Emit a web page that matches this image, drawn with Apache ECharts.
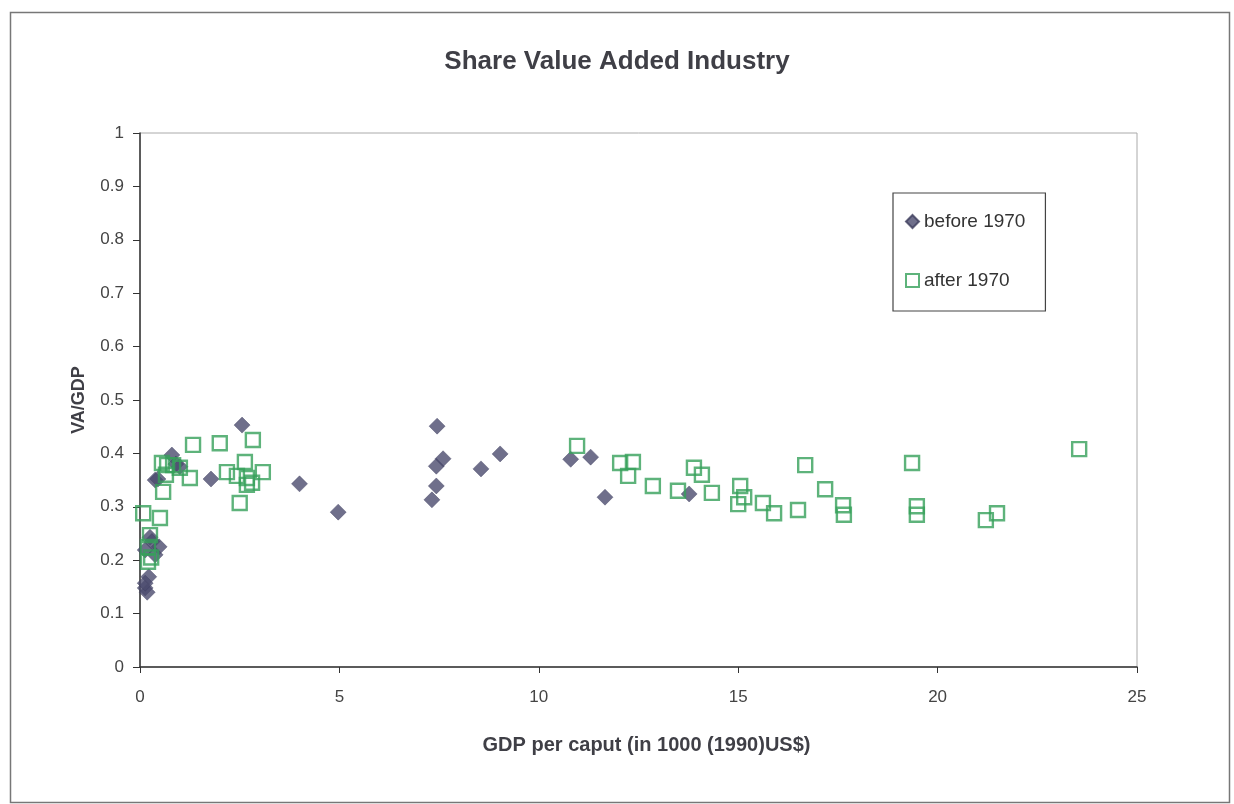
<!DOCTYPE html>
<html>
<head>
<meta charset="utf-8">
<script src="https://cdn.jsdelivr.net/npm/echarts@6/dist/echarts.min.js"></script>
<style>
html,body{margin:0;padding:0;background:#fff;}
#c{width:1234px;height:804px;}
</style>
</head>
<body>
<div id="c"></div>
<script>
// Data: [GDP per caput (1000 1990 US$), VA/GDP]
const before1970 = [
  [0.13, 0.148], [0.18, 0.140], [0.22, 0.169], [0.13, 0.157],
  [0.25, 0.243], [0.48, 0.225], [0.13, 0.219], [0.38, 0.210], [0.30, 0.235],
  [0.38, 0.350], [0.45, 0.352], [0.80, 0.397], [0.90, 0.380], [1.00, 0.375],
  [1.78, 0.352], [2.56, 0.453], [4.00, 0.343], [4.97, 0.290],
  [7.45, 0.451], [7.43, 0.376], [7.60, 0.390], [7.43, 0.339], [7.32, 0.313],
  [8.55, 0.371], [9.03, 0.399],
  [10.80, 0.389], [11.30, 0.393], [11.66, 0.318], [13.77, 0.324]
];
const after1970 = [
  [0.08, 0.288], [0.50, 0.279], [0.25, 0.247], [0.20, 0.225], [0.20, 0.197], [0.28, 0.205],
  [0.58, 0.328], [0.55, 0.382], [0.68, 0.378], [0.83, 0.378], [1.00, 0.373], [0.65, 0.360],
  [1.25, 0.354], [1.33, 0.416], [2.00, 0.419], [2.83, 0.425],
  [2.63, 0.384], [2.18, 0.365], [2.43, 0.358], [2.68, 0.354], [3.08, 0.365],
  [2.68, 0.341], [2.81, 0.345], [2.50, 0.307],
  [10.96, 0.414], [12.04, 0.382], [12.36, 0.384], [12.24, 0.358], [12.86, 0.339],
  [13.49, 0.330], [13.89, 0.373], [14.09, 0.360], [14.34, 0.326],
  [15.05, 0.339], [15.15, 0.318], [15.00, 0.305], [15.62, 0.307], [15.90, 0.288],
  [16.50, 0.294], [16.68, 0.378], [17.18, 0.333], [17.63, 0.303], [17.65, 0.285],
  [19.36, 0.382], [19.48, 0.301], [19.48, 0.285], [21.21, 0.275], [21.49, 0.288],
  [23.55, 0.408]
];
const xTicks = [0, 5, 10, 15, 20, 25];
const yTicks = [0, 0.1, 0.2, 0.3, 0.4, 0.5, 0.6, 0.7, 0.8, 0.9, 1];
const seriesNames = ['before 1970', 'after 1970'];

const chart = echarts.init(document.getElementById('c'), null, {renderer: 'canvas'});
const font = 'Liberation Sans, Arial, Helvetica, sans-serif';
chart.setOption({
  backgroundColor: '#fff',
  animation: false,
  textStyle: {fontFamily: font},
  title: {
    text: 'Share Value Added Industry',
    left: 'center', top: 44,
    textStyle: {fontSize: 26, fontWeight: 'bold', color: '#3f3f46', fontFamily: font}
  },
  graphic: [{
    type: 'rect', left: 8, top: 10, silent: true,
    shape: {width: 1219, height: 790},
    style: {fill: 'none', stroke: '#777', lineWidth: 1.5}
  }],
  grid: {
    left: 140, top: 133, right: 97, bottom: 137,
    show: true, borderColor: '#aaa', borderWidth: 1, backgroundColor: 'transparent'
  },
  legend: {
    orient: 'vertical', left: 893, top: 193,
    padding: [19, 20, 21, 12],
    itemGap: 40, itemWidth: 13, itemHeight: 13,
    borderColor: '#444', borderWidth: 1.2,
    textStyle: {fontSize: 19, color: '#333', fontFamily: font},
    data: seriesNames
  },
  xAxis: {
    type: 'value', min: xTicks[0], max: xTicks[xTicks.length - 1], interval: 5,
    name: 'GDP per caput (in 1000 (1990)US$)',
    nameLocation: 'middle', nameGap: 68,
    nameTextStyle: {fontSize: 20, fontWeight: 'bold', color: '#3f3f46', padding: [0, 0, 0, 16]},
    axisLine: {lineStyle: {color: '#333', width: 1.5}},
    axisTick: {show: true, length: 6, inside: false, lineStyle: {color: '#333'}},
    axisLabel: {fontSize: 17, color: '#444', margin: 22},
    splitLine: {show: false}
  },
  yAxis: {
    type: 'value', min: yTicks[0], max: yTicks[yTicks.length - 1], interval: 0.1,
    name: 'VA/GDP',
    nameLocation: 'middle', nameGap: 52, nameRotate: 90,
    nameTextStyle: {fontSize: 18, fontWeight: 'bold', color: '#3f3f46'},
    axisLine: {show: true, lineStyle: {color: '#333', width: 1.5}},
    axisTick: {show: true, length: 7, inside: false, lineStyle: {color: '#333'}},
    axisLabel: {fontSize: 17, color: '#444', margin: 16,
      formatter: v => String(Math.round(v * 10) / 10)},
    splitLine: {show: false}
  },
  series: [
    {
      name: seriesNames[0], type: 'scatter', symbol: 'diamond', symbolSize: 16,
      itemStyle: {color: '#4b4b6e', borderColor: '#3d3d5c', borderWidth: 0.5},
      data: before1970, z: 2
    },
    {
      name: seriesNames[1], type: 'scatter', symbol: 'rect', symbolSize: 14,
      itemStyle: {color: 'rgba(255,255,255,0)', borderColor: '#36a05a', borderWidth: 2.4},
      data: after1970, z: 3
    }
  ]
});
</script>
</body>
</html>
